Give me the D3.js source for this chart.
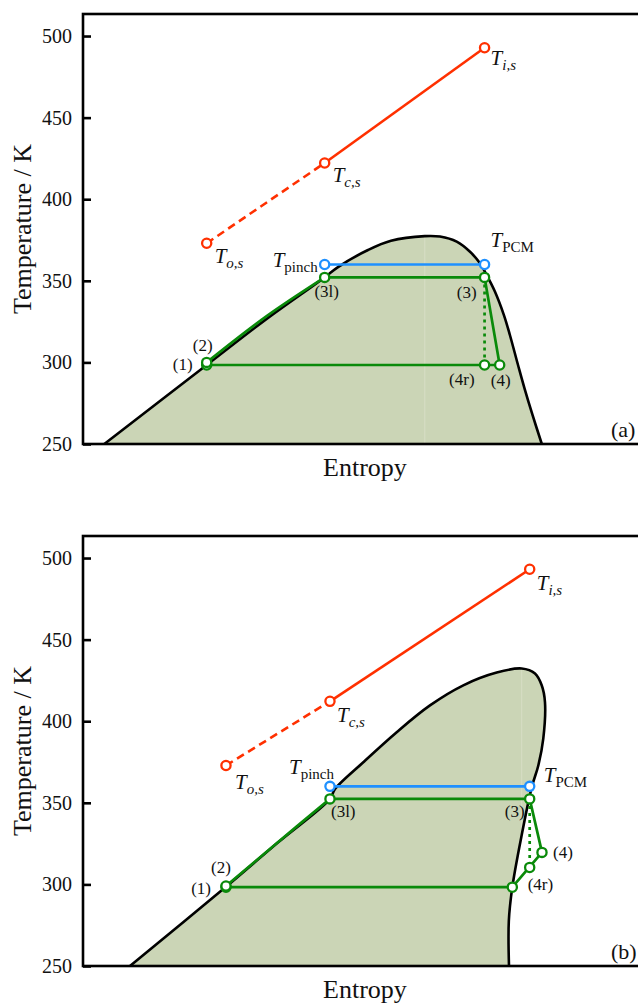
<!DOCTYPE html>
<html>
<head>
<meta charset="utf-8">
<script src="https://cdn.jsdelivr.net/npm/d3@7"></script>
<style>
body { margin: 0; background: #fff; }
svg, svg text { font-family: "Liberation Serif", "DejaVu Serif", serif; }
svg { display: block; }
</style>
</head>
<body>
<div id="chart"></div>
<script>
// temperature ticks (K)
const tempTicks = [250, 300, 350, 400, 450, 500]

// ---- panel (a) ----
// saturation dome, entropy in arbitrary units
const domeEntropyA = [0.378, 2.193, 3.25, 4.285, 4.521, 5.053, 5.461, 6.06, 6.33, 6.626, 6.862, 7.039, 7.158, 7.305, 7.463, 7.569, 7.713, 7.828, 7.97, 8.135]
const domeTempA = [250, 298.4, 326.5, 352.1, 358.4, 368.9, 374.6, 377.4, 377.1, 374.0, 367.8, 360.7, 353.5, 343.3, 329.0, 316.8, 298.4, 284.1, 267.8, 250]
// working fluid along saturated liquid line (2) -> (3l)
const liquidEntropyA = [2.193, 3.25, 4.285]
const liquidTempA = [300, 328.2, 352.1]
// heat source : T_o,s  T_c,s  T_i,s
const sourceEntropyA = [2.193, 4.285, 7.12]
const sourceTempA = [373, 422.2, 492.8]
// pinch / PCM
const pinchEntropyA = [4.285, 7.12]
const pinchTempA = [360, 360]
// cycle states
const stateNamesA = ['(1)', '(2)', '(3l)', '(3)', '(4)', '(4r)']
const stateEntropyA = [2.193, 2.193, 4.285, 7.12, 7.388, 7.12]
const stateTempA = [298.4, 300, 352.1, 352.1, 298.4, 298.4]

// ---- panel (b) ----
const domeEntropyB = [0.833, 2.535, 3.45, 4.379, 4.468, 4.97, 5.562, 6.152, 6.743, 7.335, 7.778, 8.014, 8.133, 8.191, 8.161, 8.073, 7.956, 7.77, 7.612, 7.55, 7.553]
const domeTempB = [250, 298.5, 325.5, 352.4, 358.5, 374.9, 393.3, 409.7, 422.0, 429.8, 432.3, 429.2, 422.0, 411.7, 389.3, 372.9, 359.5, 328.8, 298.3, 277.6, 250]
const liquidEntropyB = [2.535, 3.45, 4.379]
const liquidTempB = [299, 325.7, 352.4]
const sourceEntropyB = [2.535, 4.379, 7.92]
const sourceTempB = [372.9, 412.2, 493.1]
const pinchEntropyB = [4.379, 7.92]
const pinchTempB = [360.1, 360.1]
const stateNamesB = ['(1)', '(2)', '(3l)', '(3)', '(4)', '(4r)', 'v']
const stateEntropyB = [2.535, 2.535, 4.379, 7.92, 8.138, 7.92, 7.612]
const stateTempB = [298.3, 299, 352.4, 352.4, 319.6, 310.4, 298.3]

const sourceNames = ['o,s', 'c,s', 'i,s']

// label placement (pixel offsets from the marker)
const labelLayoutA = {
    'o,s': [8, 20, 'start'], 'c,s': [8, 19, 'start'], 'i,s': [6, 17, 'start'],
    'pinch': [-7, 3, 'end'], 'PCM': [6, -17, 'start'],
    '(1)': [-14, 5, 'end'], '(2)': [-4, -11, 'middle'], '(3l)': [2, 20, 'middle'],
    '(3)': [-8, 21, 'end'], '(4)': [1, 21, 'middle'], '(4r)': [-10, 20, 'end']
}
const labelLayoutB = {
    'o,s': [9, 24, 'start'], 'c,s': [7, 21, 'start'], 'i,s': [7, 21, 'start'],
    'pinch': [4, -12, 'end'], 'PCM': [14, -4, 'start'],
    '(1)': [-15, 7, 'end'], '(2)': [-5, -13, 'middle'], '(3l)': [1, 18, 'start'],
    '(3)': [-5, 18, 'end'], '(4)': [11, 6, 'start'], '(4r)': [-2, 23, 'start']
}

const W = 564, H = 430
const RED = '#ff3000', BLUE = '#1e90ff', GREEN = '#0a8a0a', DOME = '#cbd5b6'
const FONT = '"Liberation Serif", "DejaVu Serif", serif'

const svg = d3.select('#chart')
    .append('svg')
    .attr('width', 638)
    .attr('height', 1003)
    .attr('font-family', FONT)

const addTLabel = (g, px, py, sub, subItalic, lay) => {
    let t = g.append('text')
        .attr('x', px + lay[0])
        .attr('y', py + lay[1])
        .attr('text-anchor', lay[2])
        .attr('font-family', FONT)
        .attr('fill', '#111')
    t.append('tspan').attr('font-style', 'italic').attr('font-size', '21px').text('T')
    t.append('tspan')
        .attr('font-style', subItalic ? 'italic' : 'normal')
        .attr('font-size', '15px')
        .attr('dy', 5)
        .text(sub)
}

const drawPanel = (p) => {
    let g = svg.append('g')
        .attr("transform", "translate(" + 83 + "," + p.top + ")")

    const x = d3.scaleLinear().domain([0, 10]).range([0, W])
    const y = d3.scaleLinear().domain([250, 513.5]).range([H, 0])
    const straight = d3.line().x(d => x(d[0])).y(d => y(d[1]))
    const smooth = d3.line().x(d => x(d[0])).y(d => y(d[1])).curve(d3.curveCatmullRom.alpha(0.5))
    let dome = d3.zip(p.domeS, p.domeT)

    // saturation dome
    g.append('clipPath')
        .attr('id', 'dome-' + p.id)
        .append('path')
        .attr('d', smooth(dome))
    g.append('path')
        .datum(dome)
        .attr('d', smooth)
        .attr('fill', DOME)
        .attr('stroke', 'none')
    // faint seam at the critical point (two halves of the fill)
    let top = d3.maxIndex(p.domeT)
    g.append('line')
        .attr('clip-path', 'url(#dome-' + p.id + ')')
        .attr('x1', x(p.domeS[top])).attr('x2', x(p.domeS[top]))
        .attr('y1', y(p.domeT[top])).attr('y2', y(250))
        .attr('stroke', '#d8dec6').attr('stroke-width', 1)
    g.append('path')
        .datum(dome)
        .attr('d', smooth)
        .attr('fill', 'none')
        .attr('stroke', 'black')
        .attr('stroke-width', 2.6)

    // heat source line
    let src = d3.zip(p.srcS, p.srcT)
    g.append('path').datum(src.slice(0, 2)).attr('d', straight)
        .attr('fill', 'none').attr('stroke', RED).attr('stroke-width', 2.6)
        .attr('stroke-dasharray', '8,5')
    g.append('path').datum(src.slice(1, 3)).attr('d', straight)
        .attr('fill', 'none').attr('stroke', RED).attr('stroke-width', 2.6)

    // pinch line
    let pin = d3.zip(p.pinS, p.pinT)
    g.append('path').datum(pin).attr('d', straight)
        .attr('fill', 'none').attr('stroke', BLUE).attr('stroke-width', 2.6)

    // cycle
    let st = {}
    p.names.forEach((n, i) => { st[n] = [p.stS[i], p.stT[i]] })
    g.append('path').datum(d3.zip(p.liqS, p.liqT)).attr('d', smooth)
        .attr('fill', 'none').attr('stroke', GREEN).attr('stroke-width', 2.7)
    let loop = [st['(3l)'], st['(3)'], st['(4)']]
    if (st['v']) loop.push(st['v'])
    loop.push(st['(1)'])
    g.append('path').datum(loop).attr('d', straight)
        .attr('fill', 'none').attr('stroke', GREEN).attr('stroke-width', 2.7)
        .attr('stroke-linejoin', 'round')
    g.append('path').datum([st['(3)'], st['(4r)']]).attr('d', straight)
        .attr('fill', 'none').attr('stroke', GREEN).attr('stroke-width', 2.7)
        .attr('stroke-dasharray', '3,4')

    // markers
    const marker = (pts, color) => {
        g.selectAll(null)
            .data(pts)
            .enter()
            .append('circle')
            .attr('cx', d => x(d[0]))
            .attr('cy', d => y(d[1]))
            .attr('r', 4.6)
            .attr('fill', 'white')
            .attr('stroke', color)
            .attr('stroke-width', 2.3)
    }
    marker(src, RED)
    marker(pin, BLUE)
    marker(p.names.map(n => st[n]), GREEN)

    // labels
    src.forEach((d, i) => addTLabel(g, x(d[0]), y(d[1]), sourceNames[i], true, p.lay[sourceNames[i]]))
    addTLabel(g, x(pin[0][0]), y(pin[0][1]), 'pinch', false, p.lay['pinch'])
    addTLabel(g, x(pin[1][0]), y(pin[1][1]), 'PCM', false, p.lay['PCM'])
    p.names.filter(n => p.lay[n]).forEach(n => {
        let l = p.lay[n]
        g.append('text')
            .attr('x', x(st[n][0]) + l[0])
            .attr('y', y(st[n][1]) + l[1])
            .attr('text-anchor', l[2])
            .attr('font-family', FONT)
            .attr('font-size', '17px')
            .attr('fill', '#111')
            .text(n)
    })

    // axis, ticks inward
    let ax = g.append("g")
        .call(d3.axisLeft(y).tickValues(tempTicks).tickSizeInner(-8).tickSizeOuter(0).tickPadding(11))
        .attr('font-family', FONT)
    ax.select('.domain').remove()
    ax.selectAll('line').attr('stroke', 'black').attr('stroke-width', 2.6)
    ax.selectAll('text')
        .attr("font-family", FONT)
        .attr("font-size", "20px")
        .attr('fill', '#111')

    // frame
    g.append('rect')
        .attr('width', W).attr('height', H)
        .attr('fill', 'none').attr('stroke', 'black').attr('stroke-width', 2.6)

    g.append('text')
        .attr('transform', 'translate(-52.5,' + (H / 2) + ') rotate(-90)')
        .attr('text-anchor', 'middle')
        .attr('font-family', FONT)
        .attr('font-size', '26px')
        .attr('fill', '#111')
        .text('Temperature / K')

    g.append('text')
        .attr('x', W / 2).attr('y', H + 32)
        .attr('text-anchor', 'middle')
        .attr('font-family', FONT)
        .attr('font-size', '26px')
        .attr('fill', '#111')
        .text('Entropy')

    g.append('text')
        .attr('x', 528).attr('y', H - 7)
        .attr('font-family', FONT)
        .attr('font-size', '22px')
        .attr('fill', '#111')
        .text(p.tag)
}

drawPanel({
    id: 'a', top: 14, tag: '(a)',
    domeS: domeEntropyA, domeT: domeTempA, liqS: liquidEntropyA, liqT: liquidTempA,
    srcS: sourceEntropyA, srcT: sourceTempA, pinS: pinchEntropyA, pinT: pinchTempA,
    names: stateNamesA, stS: stateEntropyA, stT: stateTempA, lay: labelLayoutA
})
drawPanel({
    id: 'b', top: 536, tag: '(b)',
    domeS: domeEntropyB, domeT: domeTempB, liqS: liquidEntropyB, liqT: liquidTempB,
    srcS: sourceEntropyB, srcT: sourceTempB, pinS: pinchEntropyB, pinT: pinchTempB,
    names: stateNamesB, stS: stateEntropyB, stT: stateTempB, lay: labelLayoutB
})
</script>
</body>
</html>
